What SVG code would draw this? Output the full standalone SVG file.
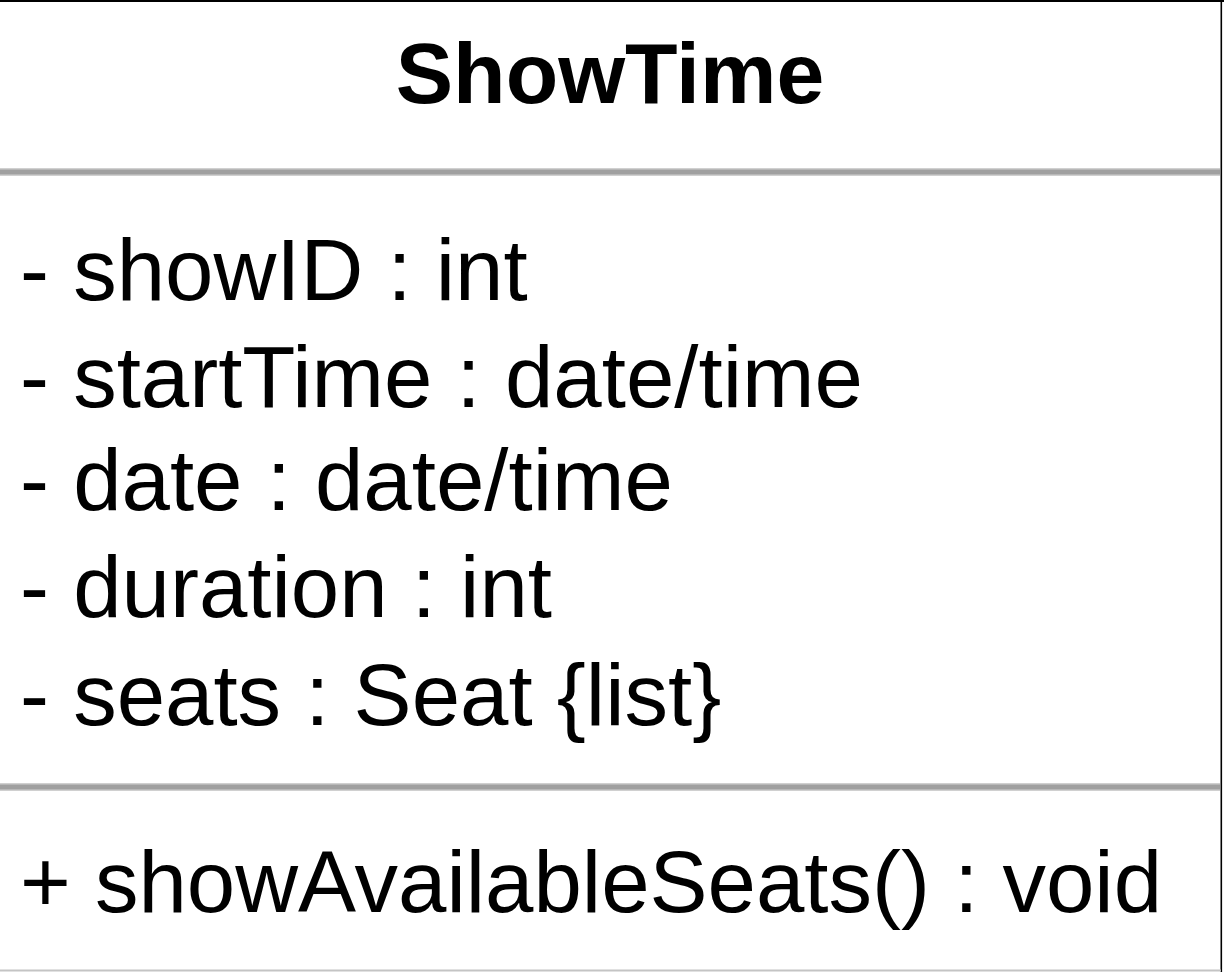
<svg xmlns="http://www.w3.org/2000/svg" width="1224" height="972" viewBox="0 0 1224 972">
<style>
.t{font-family:"Liberation Sans",Arial,Helvetica,sans-serif;fill:#000}
.title{font-size:86px;font-weight:bold}
.row{font-size:87px}
.sep{fill:#a0a0a0}
.sepe{fill:#d0d0d0}
</style>
<rect x="0" y="0" width="1224" height="972" fill="#ffffff"/>
<g id="ShowTime">
<rect x="0" y="0" width="1224" height="2" fill="#000"/>
<rect x="1220.5" y="0" width="1.6" height="972" fill="#000"/>
<rect x="0" y="969.5" width="1221" height="2" fill="#c4c4c4"/>
<rect class="sepe" x="0" y="168" width="1220" height="8"/>
<rect class="sep" x="0" y="169.5" width="1220" height="5"/>
<rect class="sepe" x="0" y="783" width="1220" height="8"/>
<rect class="sep" x="0" y="784.5" width="1220" height="5"/>
<text class="t title" x="610" y="103" text-anchor="middle">ShowTime</text>
<text class="t row" x="20" y="300">- showID : int</text>
<text class="t row" x="20" y="407">- startTime : date/time</text>
<text class="t row" x="20" y="510">- date : date/time</text>
<text class="t row" x="20" y="617">- duration : int</text>
<text class="t row" x="20" y="725">- seats : Seat {list}</text>
<text class="t row" x="20" y="912">+ showAvailableSeats() : void</text>
</g>
</svg>
